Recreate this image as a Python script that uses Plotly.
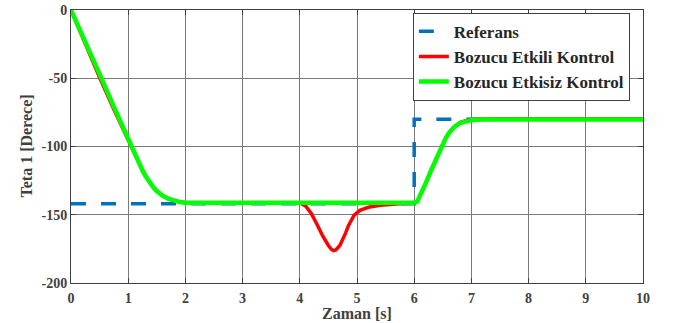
import plotly.graph_objects as go

# ---- data ----
ref_t = [0, 6, 6, 10]
ref_y = [-142, -142, -80, -80]

green_t = [0, 0.25, 0.5, 0.75, 1.0, 1.1, 1.2, 1.25, 1.3, 1.35, 1.4, 1.45, 1.5, 1.55, 1.6, 1.7, 1.8, 1.9, 2.0,
           3.0, 4.0, 5.0, 6.0, 6.05, 6.1, 6.2, 6.3, 6.4, 6.5, 6.55, 6.6, 6.65, 6.7, 6.8, 6.9, 7.0, 7.2,
           8.0, 9.0, 10.0]
green_y = [0, -23, -47, -71, -95, -104, -113, -117.5, -121.5, -125, -128, -130.5, -132.7, -134.5, -136,
           -138.3, -139.8, -140.7, -141.2, -141.3, -141.3, -141.3, -141.3, -140.5, -136.5, -127, -117,
           -107, -98, -94, -90.5, -87.8, -85.7, -82.8, -81.3, -80.6, -80.3, -80.3, -80.3, -80.3]

red_t = [0, 0.25, 0.5, 0.75, 1.0, 1.1, 1.2, 1.25, 1.3, 1.35, 1.4, 1.45, 1.5, 1.55, 1.6, 1.7, 1.8, 1.9, 2.0,
         3.0, 4.0, 4.1, 4.2, 4.3, 4.4, 4.5, 4.55, 4.59, 4.63, 4.7, 4.75, 4.8, 4.85, 4.9, 4.95, 5.05,
         5.2, 5.4, 5.6, 5.8, 6.0, 6.05, 6.1, 6.2, 6.3, 6.4, 6.5, 6.55, 6.6, 6.65, 6.7, 6.8, 6.9, 7.0,
         7.2, 8.0, 9.0, 10.0]
red_y = [0, -25.5, -49.5, -73, -96, -104.5, -113, -117.5, -121.5, -125, -128, -130.5, -132.7, -134.5,
         -136, -138.3, -139.8, -140.7, -141.2, -141.3, -141.3, -143.5, -149, -157, -165.5, -172.5,
         -175.3, -176.3, -175.8, -172.5, -168.5, -163.5, -158, -153.5, -150.3, -146.8, -144.5, -143,
         -142.2, -141.8, -141.5, -140.5, -136.5, -127, -117, -107, -98, -94, -90.5, -87.8, -85.5,
         -82.5, -81, -80.2, -79.8, -79.6, -79.6, -79.6]

x_ticks = [0, 1, 2, 3, 4, 5, 6, 7, 8, 9, 10]
y_ticks = [0, -50, -100, -150, -200]

names = ["Referans", "Bozucu Etkili Kontrol", "Bozucu Etkisiz Kontrol"]
x_title = "Zaman [s]"
y_title = "Teta 1 [Derece]"

FONT = "Liberation Serif"

fig = go.Figure()
fig.add_trace(go.Scatter(x=ref_t, y=ref_y, mode="lines", name=names[0],
                         line=dict(color="#0072BD", width=3.5, dash="15px,15px")))
fig.add_trace(go.Scatter(x=red_t, y=red_y, mode="lines", name=names[1],
                         line=dict(color="#FF0000", width=3.5)))
fig.add_trace(go.Scatter(x=green_t, y=green_y, mode="lines", name=names[2],
                         line=dict(color="#00FF00", width=4.5)))

axis_common = dict(
    showline=True, linecolor="#404040", linewidth=1, mirror="ticks",
    ticks="inside", ticklen=5, tickcolor="#404040",
    showgrid=True, gridcolor="#7a7a7a", gridwidth=1,
    zeroline=False, automargin=False,
    tickfont=dict(family=FONT, size=14, color="#404040", weight="bold"),
)

fig.update_layout(
    width=678, height=323,
    margin=dict(l=71, r=35, t=10, b=40),
    paper_bgcolor="white", plot_bgcolor="white",
    font=dict(family=FONT, color="#262626"),
    xaxis=dict(range=[0, 10], tickvals=x_ticks, ticktext=[str(v) for v in x_ticks],
               ticklabelstandoff=2, **axis_common),
    yaxis=dict(range=[-200, 0], tickvals=y_ticks, ticktext=[str(v) for v in y_ticks],
               ticklabelstandoff=0, **axis_common),
    legend=dict(x=0.977, y=0.99, xanchor="right", yanchor="top",
                bgcolor="white", bordercolor="#404040", borderwidth=1,
                font=dict(family=FONT, size=17, color="#262626", weight="bold"),
                itemwidth=30, tracegroupgap=0),
    showlegend=True,
)

fig.add_annotation(text=f"<b>{x_title}</b>", xref="paper", yref="paper", x=0.5, y=0,
                   xanchor="center", yanchor="middle", yshift=-30, showarrow=False,
                   borderpad=0, font=dict(family=FONT, size=16, color="#404040"))
fig.add_annotation(text=f"<b>{y_title}</b>", xref="paper", yref="paper", x=0, y=0.5,
                   xanchor="center", yanchor="middle", xshift=-45, textangle=-90, showarrow=False,
                   borderpad=0, font=dict(family=FONT, size=16, color="#404040"))

fig.write_html("out.html")
